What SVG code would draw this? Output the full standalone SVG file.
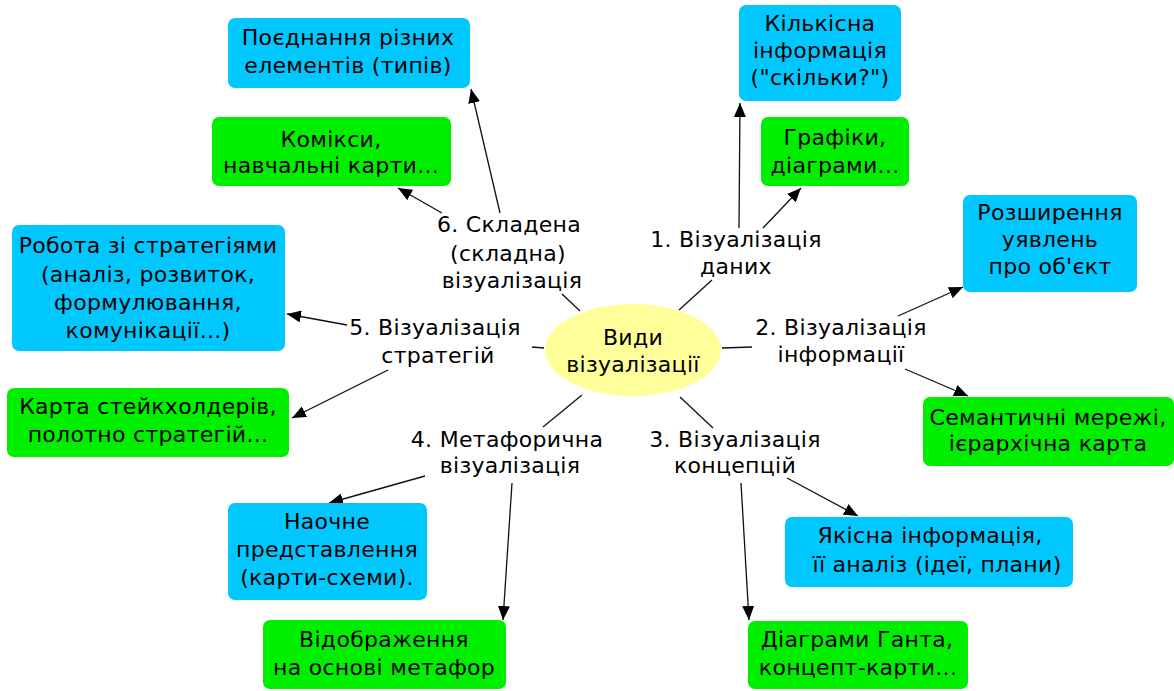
<svg xmlns="http://www.w3.org/2000/svg" width="1174" height="691" viewBox="0 0 1174 691">
<style>
text{font-family:"DejaVu Sans","Verdana",sans-serif;font-size:22px;letter-spacing:0.3px;fill:#000;text-anchor:middle}
.b{fill:#00C8FF}
.g{fill:#00EE00}
.ln{stroke:#111;stroke-width:1.3;fill:none}
.ar{stroke:#111;stroke-width:1.3;fill:none;marker-end:url(#ah)}
</style>
<defs>
<marker id="ah" markerUnits="userSpaceOnUse" markerWidth="14" markerHeight="12" viewBox="0 0 14 12" refX="14" refY="6" orient="auto">
<path d="M0,0 L14,6 L0,12 z" fill="#000"/>
</marker>
</defs>
<rect width="1174" height="691" fill="#fff"/>
<g id="connectors">
<line class="ln" x1="580" y1="311" x2="562" y2="294"/>
<line class="ln" x1="679" y1="310" x2="712" y2="280"/>
<line class="ln" x1="722" y1="348" x2="752" y2="347"/>
<line class="ln" x1="680" y1="397" x2="713" y2="428"/>
<line class="ln" x1="582" y1="395" x2="543" y2="427"/>
<line class="ln" x1="544" y1="348" x2="532" y2="347"/>
<line class="ar" x1="500" y1="213" x2="471" y2="89"/>
<line class="ar" x1="442" y1="213" x2="398" y2="188"/>
<line class="ar" x1="739" y1="228" x2="740" y2="103"/>
<line class="ar" x1="763" y1="228" x2="801" y2="188"/>
<line class="ar" x1="898" y1="316" x2="963" y2="287"/>
<line class="ar" x1="905" y1="369" x2="968" y2="396"/>
<line class="ar" x1="787" y1="478" x2="858" y2="516"/>
<line class="ar" x1="741" y1="483" x2="749" y2="620"/>
<line class="ar" x1="425" y1="476" x2="329" y2="503"/>
<line class="ar" x1="512" y1="483" x2="503" y2="620"/>
<line class="ar" x1="347" y1="325" x2="287" y2="314"/>
<line class="ar" x1="388" y1="370" x2="292" y2="418"/>
</g>
<g id="center">
<ellipse cx="633" cy="350" rx="88" ry="46" fill="#FFFF99"/>
<text x="633" y="345">Види</text>
<text x="633" y="372">візуалізації</text>
</g>
<g id="label6"><text x="509" y="232">6. Складена</text><text x="508" y="261">(складна)</text><text x="512" y="288">візуалізація</text></g>
<g id="label1"><text x="736" y="247">1. Візуалізація</text><text x="736" y="274">даних</text></g>
<g id="label2"><text x="841" y="335">2. Візуалізація</text><text x="841" y="362">інформації</text></g>
<g id="label3"><text x="735" y="447">3. Візуалізація</text><text x="735" y="473">концепцій</text></g>
<g id="label4"><text x="507" y="447">4. Метафорична</text><text x="510" y="473">візуалізація</text></g>
<g id="label5"><text x="435" y="335">5. Візуалізація</text><text x="438" y="363">стратегій</text></g>
<g id="n-poiednannia"><rect class="b" x="228" y="18" width="242" height="70" rx="7"/><text x="348" y="45">Поєднання різних</text><text x="348" y="73">елементів (типів)</text></g>
<g id="n-komiksy"><rect class="g" x="212" y="117" width="239" height="69" rx="7"/><text x="331" y="147">Комікси,</text><text x="331" y="173">навчальні карти...</text></g>
<g id="n-kilkisna"><rect class="b" x="739" y="5" width="162" height="96" rx="7"/><text x="820" y="31">Кількісна</text><text x="820" y="58">інформація</text><text x="820" y="85">("скільки?")</text></g>
<g id="n-hrafiky"><rect class="g" x="761" y="117" width="148" height="69" rx="7"/><text x="835" y="145">Графіки,</text><text x="835" y="173">діаграми...</text></g>
<g id="n-rozshyrennia"><rect class="b" x="963" y="195" width="174" height="97" rx="7"/><text x="1050" y="220">Розширення</text><text x="1050" y="247">уявлень</text><text x="1050" y="274">про об'єкт</text></g>
<g id="n-semantychni"><rect class="g" x="923" y="397" width="251" height="69" rx="7"/><text x="1048" y="425">Семантичні мережі,</text><text x="1048" y="451">ієрархічна карта</text></g>
<g id="n-yakisna"><rect class="b" x="785" y="517" width="288" height="70" rx="7"/><text x="930" y="543">Якісна інформація,</text><text x="937" y="572">її аналіз (ідеї, плани)</text></g>
<g id="n-hanta"><rect class="g" x="748" y="621" width="220" height="68" rx="7"/><text x="857" y="647">Діаграми Ганта,</text><text x="858" y="675">концепт-карти...</text></g>
<g id="n-naochne"><rect class="b" x="228" y="503" width="199" height="97" rx="7"/><text x="327" y="529">Наочне</text><text x="327" y="557">представлення</text><text x="327" y="585">(карти-схеми).</text></g>
<g id="n-vidobrazhennia"><rect class="g" x="263" y="620" width="243" height="69" rx="7"/><text x="384" y="647">Відображення</text><text x="384" y="675">на основі метафор</text></g>
<g id="n-robota"><rect class="b" x="12" y="225" width="273" height="126" rx="7"/><text x="148" y="253">Робота зі стратегіями</text><text x="148" y="282">(аналіз, розвиток,</text><text x="148" y="310">формулювання,</text><text x="148" y="338">комунікації...)</text></g>
<g id="n-karta"><rect class="g" x="7" y="388" width="282" height="69" rx="7"/><text x="148" y="414">Карта стейкхолдерів,</text><text x="148" y="442">полотно стратегій...</text></g>
</svg>
